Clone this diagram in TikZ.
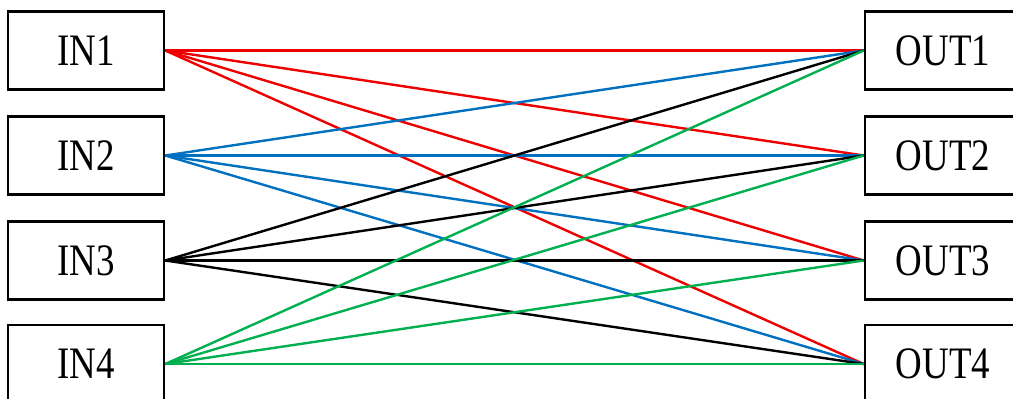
\documentclass[tikz,border=0pt]{standalone}
\usepackage{fontspec}
\setmainfont{Liberation Serif}[FakeStretch=0.82]
\definecolor{lred}{HTML}{EE0000}
\definecolor{lblue}{HTML}{0070C0}
\definecolor{lgreen}{HTML}{00B050}
\tikzset{
  port/.style={draw, line width=2.6pt, minimum width=156pt, minimum height=78pt, inner sep=0pt, font=\fontsize{45}{50}\selectfont},
  wire/.style={line width=2.4pt}
}
\begin{document}
\begin{tikzpicture}[x=1pt,y=-1pt]
\useasboundingbox (0,0) rectangle (1013,399);
\clip (0,0) rectangle (1013,399);
\node[port] (in1) at (86,50.5) {IN1};
\node[port] (in2) at (86,155.5) {IN2};
\node[port] (in3) at (86,260.5) {IN3};
\node[port] (in4) at (86,364) {IN4};
\node[port] (out1) at (943,50.5) {OUT1};
\node[port] (out2) at (943,155.5) {OUT2};
\node[port] (out3) at (943,260.5) {OUT3};
\node[port] (out4) at (943,364) {OUT4};
\foreach \i/\c in {1/lred,2/lblue,3/black,4/lgreen}{
  \foreach \j in {1,2,3,4}{
    \draw[wire,\c] (in\i.east) -- (out\j.west);
  }
}
\end{tikzpicture}
\end{document}
